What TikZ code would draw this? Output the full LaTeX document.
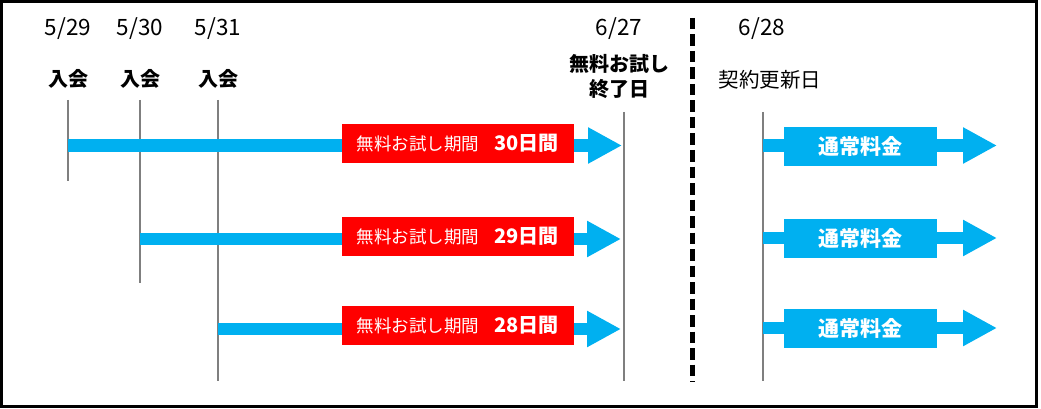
\documentclass[tikz,border=0pt]{standalone}
\usepackage{fontspec}
\setmainfont{Noto Sans CJK JP}
\usepackage{xcolor}
\usetikzlibrary{positioning,arrows.meta}

\definecolor{trialred}{HTML}{FF0000}
\definecolor{feeblue}{HTML}{00B0F0}
\definecolor{tickgray}{HTML}{7F7F7F}

\begin{document}
\begin{tikzpicture}[
x=1pt, y=-1pt,
every node/.style={
inner sep=0pt,
align=center,
font=\fontsize{20.5}{25}\selectfont
},
datelabel/.style={font=\fontsize{22.5}{26}\selectfont},
joinlabel/.style={font=\fontsize{20}{25}\selectfont\bfseries},
tick/.style={draw=tickgray, line width=1.4pt},
band/.style={
draw=feeblue,
line width=12.5pt,
-{Triangle[length=34pt,width=34pt]}
},
trialbox/.style={
fill=trialred,
text=white,
minimum width=232pt,
minimum height=39pt
},
feebox/.style={
fill=feeblue,
text=white,
minimum width=153pt,
minimum height=39pt,
font=\fontsize{21}{25}\selectfont\bfseries
}
]

\useasboundingbox (0,0) rectangle (1041,409);
\draw[line width=3pt] (1.5,1.5) rectangle (1036.5,406.5);

% dates
\node[datelabel] (d529) at (68,29) {5/29};
\node[datelabel] (d530) at (140,29) {5/30};
\node[datelabel] (d531) at (218,29) {5/31};
\node[datelabel] (d627) at (619,29) {6/27};
\node[datelabel] (d628) at (762,29) {6/28};

\node[joinlabel] (j529) at (68,79) {入会};
\node[joinlabel] (j530) at (140,79) {入会};
\node[joinlabel] (j531) at (218,79) {入会};

\node[joinlabel] (trialend) at (619,77) {無料お試し\\終了日};
\node (renew) at (770,80) {契約更新日};

% ticks
\coordinate (t529) at (68,100);
\coordinate (b529) at (68,181);
\coordinate (t530) at (140,100);
\coordinate (b530) at (140,283);
\coordinate (t531) at (218,100);
\coordinate (b531) at (218,381);
\coordinate (t627) at (624,112);
\coordinate (b627) at (624,381);
\coordinate (t628) at (763,112);
\coordinate (b628) at (763,381);

\draw[tick] (t529) -- (b529);
\draw[tick] (t530) -- (b530);
\draw[tick] (t531) -- (b531);
\draw[tick] (t627) -- (b627);
\draw[tick] (t628) -- (b628);

\coordinate (cuttop) at (692.5,18);
\coordinate (cutbot) at (692.5,382);
\draw[line width=5pt, dash pattern=on 11.5pt off 5pt] (cuttop) -- (cutbot);

% trial bands
\coordinate (s30) at (68,145.5);
\coordinate (e30) at (622,145.5);
\coordinate (s29) at (140,239);
\coordinate (e29) at (621,239);
\coordinate (s28) at (218,329);
\coordinate (e28) at (621,329);

\draw[band] (s30) -- (e30);
\draw[band] (s29) -- (e29);
\draw[band] (s28) -- (e28);

\node[trialbox] (trial30) at (457.5,143.5)
{{\fontsize{17.5}{21}\selectfont 無料お試し期間}\hspace{15pt}{\fontsize{20}{24}\selectfont\bfseries 30日間}};
\node[trialbox] (trial29) at (457.5,236)
{{\fontsize{17.5}{21}\selectfont 無料お試し期間}\hspace{15pt}{\fontsize{20}{24}\selectfont\bfseries 29日間}};
\node[trialbox] (trial28) at (457.5,325.5)
{{\fontsize{17.5}{21}\selectfont 無料お試し期間}\hspace{15pt}{\fontsize{20}{24}\selectfont\bfseries 28日間}};

% regular fee
\coordinate (sf1) at (763,145.5);
\coordinate (ef1) at (997,145.5);
\coordinate (sf2) at (763,238);
\coordinate (ef2) at (997,238);
\coordinate (sf3) at (763,328);
\coordinate (ef3) at (997,328);

\draw[band] (sf1) -- (ef1);
\draw[band] (sf2) -- (ef2);
\draw[band] (sf3) -- (ef3);

\node[feebox] (fee1) at (860.5,146.5) {通常料金};
\node[feebox] (fee2) at (860.5,238.5) {通常料金};
\node[feebox] (fee3) at (860.5,328.5) {通常料金};

\end{tikzpicture}
\end{document}
